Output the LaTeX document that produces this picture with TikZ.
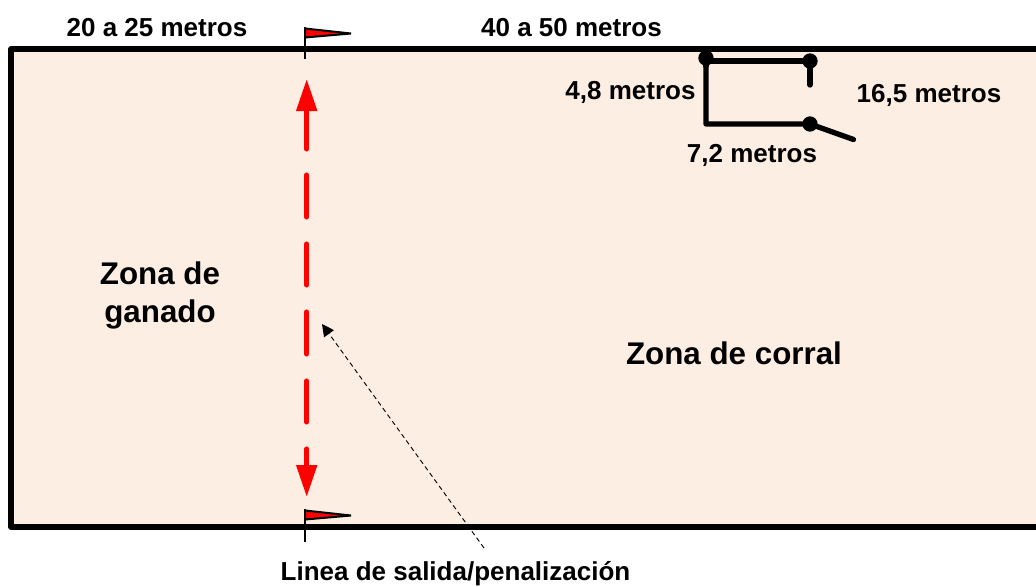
\documentclass[tikz,border=0pt]{standalone}
\usepackage{xcolor}
\usepackage{fontspec}
\setmainfont{Liberation Sans}
\usetikzlibrary{arrows.meta}
\definecolor{zonafill}{HTML}{FDEEE3}
\tikzset{
  dim/.style={font=\bfseries\fontsize{19.5}{22}\selectfont, inner sep=0pt},
  zona/.style={font=\bfseries\fontsize{23.5}{28.5}\selectfont, inner sep=0pt, align=center},
  post/.style={circle, fill=black, inner sep=0pt, minimum size=11.5},
  fence/.style={black, line width=4pt, line cap=round, line join=round},
  flag/.style={draw=black, fill=red, line width=1.5pt, line join=miter},
  pole/.style={black, line width=1.4pt},
  salida/.style={red, line width=3.8pt, line cap=round},
}
\begin{document}
\begin{tikzpicture}[x=0.75pt, y=-0.75pt]
  \useasboundingbox (0,0) rectangle (1036,586);
  \begin{scope}
    \clip (0,0) rectangle (1036,586);
    \draw[black, fill=zonafill, line width=3.9pt, line join=round] (11,49) rectangle (1060,527);
  \end{scope}
  % flags
  \draw[pole] (305,27) -- (305,59);
  \draw[flag] (305,28.5) -- (351,33.5) -- (305,37.5) -- cycle;
  \draw[pole] (305,509) -- (305,541.5);
  \draw[flag] (305,510.5) -- (351,515.5) -- (305,519.5) -- cycle;
  % line
  \coordinate (topend) at (306.7,79);
  \coordinate (botend) at (306.7,497);
  \draw[salida, -{Triangle[width=15pt,length=24pt]}] (306.7,149) -- (topend);
  \draw[salida] (306.7,175) -- (306.7,217);
  \draw[salida] (306.7,244) -- (306.7,285);
  \draw[salida] (306.7,312) -- (306.7,354);
  \draw[salida] (306.7,381) -- (306.7,422);
  \draw[salida, -{Triangle[width=15pt,length=24pt]}] (306.7,449) -- (botend);
  % corral
  \node[post] (a) at (706,58) {};
  \node[post] (b) at (810,61) {};
  \node[post] (c) at (810,124) {};
  \coordinate (d) at (706,124);
  \coordinate (e) at (810,85);
  \coordinate (f) at (853.5,139.5);
  \draw[fence] (a) -- (706,61) -- (b) -- (e);
  \draw[fence] (a) -- (d) -- (c) -- (f);
  % labels
  \node[dim] (l1) at (157,28) {20 a 25 metros};
  \node[dim] (l2) at (571.5,28) {40 a 50 metros};
  \node[dim] (l3) at (630.5,92) {4,8 metros};
  \node[dim] (l4) at (929,95) {16,5 metros};
  \node[dim] (l5) at (752,155) {7,2 metros};
  \node[zona] (ganado) at (160,295.5) {Zona de\\ganado};
  \node[zona] (corral) at (734,353) {Zona de corral};
  \node[dim] (salidatxt) at (455.5,573.5) {Linea de salida/penalización};
  \coordinate (tail) at (484,548);
  \coordinate (head) at (322,324);
  \draw[black, line width=0.7pt, dash pattern=on 3.5pt off 2.5pt, -{Triangle[width=9pt,length=9pt]}] (tail) -- (head);
\end{tikzpicture}
\end{document}
